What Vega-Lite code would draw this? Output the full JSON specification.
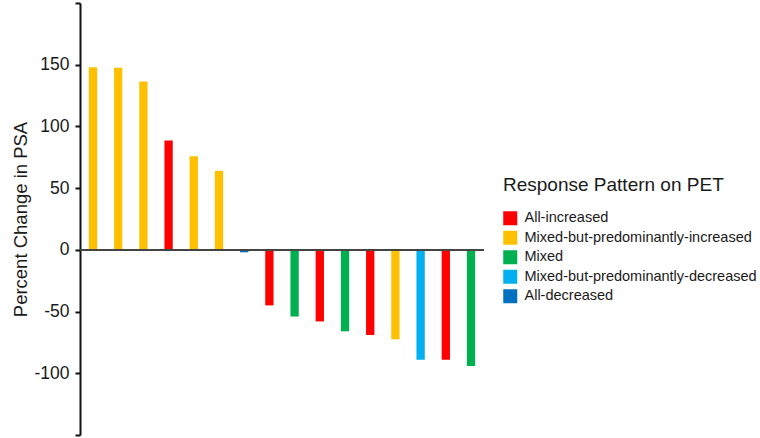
{
  "$schema": "https://vega.github.io/schema/vega-lite/v6.json",
  "autosize": "none",
  "width": 404,
  "height": 432,
  "padding": {"left": 80, "top": 3, "right": 276, "bottom": 3},
  "background": "white",
  "config": {
    "view": {"stroke": null},
    "font": "Liberation Sans"
  },
  "data": {
    "values": [
      {"id": 1, "change": 148, "pattern": "Mixed-but-predominantly-increased"},
      {"id": 2, "change": 147.5, "pattern": "Mixed-but-predominantly-increased"},
      {"id": 3, "change": 136.5, "pattern": "Mixed-but-predominantly-increased"},
      {"id": 4, "change": 88.5, "pattern": "All-increased"},
      {"id": 5, "change": 75.8, "pattern": "Mixed-but-predominantly-increased"},
      {"id": 6, "change": 64, "pattern": "Mixed-but-predominantly-increased"},
      {"id": 7, "change": -2, "pattern": "All-decreased"},
      {"id": 8, "change": -45, "pattern": "All-increased"},
      {"id": 9, "change": -54, "pattern": "Mixed"},
      {"id": 10, "change": -58, "pattern": "All-increased"},
      {"id": 11, "change": -66, "pattern": "Mixed"},
      {"id": 12, "change": -69, "pattern": "All-increased"},
      {"id": 13, "change": -72.5, "pattern": "Mixed-but-predominantly-increased"},
      {"id": 14, "change": -89, "pattern": "Mixed-but-predominantly-decreased"},
      {"id": 15, "change": -89, "pattern": "All-increased"},
      {"id": 16, "change": -94, "pattern": "Mixed"}
    ]
  },
  "layer": [
    {
      "mark": {"type": "bar"},
      "encoding": {
        "x": {
          "field": "id",
          "type": "ordinal",
          "axis": null,
          "scale": {"paddingInner": 0.67, "paddingOuter": 0.35}
        },
        "y": {
          "field": "change",
          "type": "quantitative",
          "scale": {"domain": [-150, 200], "nice": false, "zero": false},
          "axis": {
            "title": "Percent Change in PSA",
            "titleFontSize": 18.5,
            "titleFontWeight": "normal",
            "titleColor": "#1a1a1a",
            "titlePadding": 3,
            "values": [-150, -100, -50, 0, 50, 100, 150, 200],
            "labelExpr": "datum.value == -150 || datum.value == 200 ? '' : '' + datum.value",
            "labelFontSize": 17.5,
            "labelColor": "#1a1a1a",
            "labelPadding": 6,
            "tickSize": 5,
            "tickWidth": 2,
            "tickColor": "#111111",
            "domainColor": "#111111",
            "domainWidth": 2,
            "grid": false
          }
        },
        "color": {
          "field": "pattern",
          "type": "nominal",
          "scale": {
            "domain": ["All-increased", "Mixed-but-predominantly-increased", "Mixed", "Mixed-but-predominantly-decreased", "All-decreased"],
            "range": ["#FF0000", "#FFC000", "#00B050", "#00B0F0", "#0070C0"]
          },
          "legend": {
            "title": "Response Pattern on PET",
            "orient": "none",
            "legendX": 423,
            "legendY": 173,
            "titleFontSize": 19,
            "titleFontWeight": "normal",
            "titleColor": "#1a1a1a",
            "titlePadding": 16,
            "titleLimit": 400,
            "labelFontSize": 14.5,
            "labelColor": "#1a1a1a",
            "labelOffset": 7,
            "symbolType": "square",
            "symbolSize": 196,
            "symbolStrokeWidth": 0,
            "symbolOpacity": 1,
            "rowPadding": 3.5,
            "labelLimit": 400
          }
        }
      }
    },
    {
      "mark": {"type": "rule", "color": "#444444", "strokeWidth": 1.5},
      "encoding": {"y": {"datum": 0, "type": "quantitative"}}
    }
  ]
}
